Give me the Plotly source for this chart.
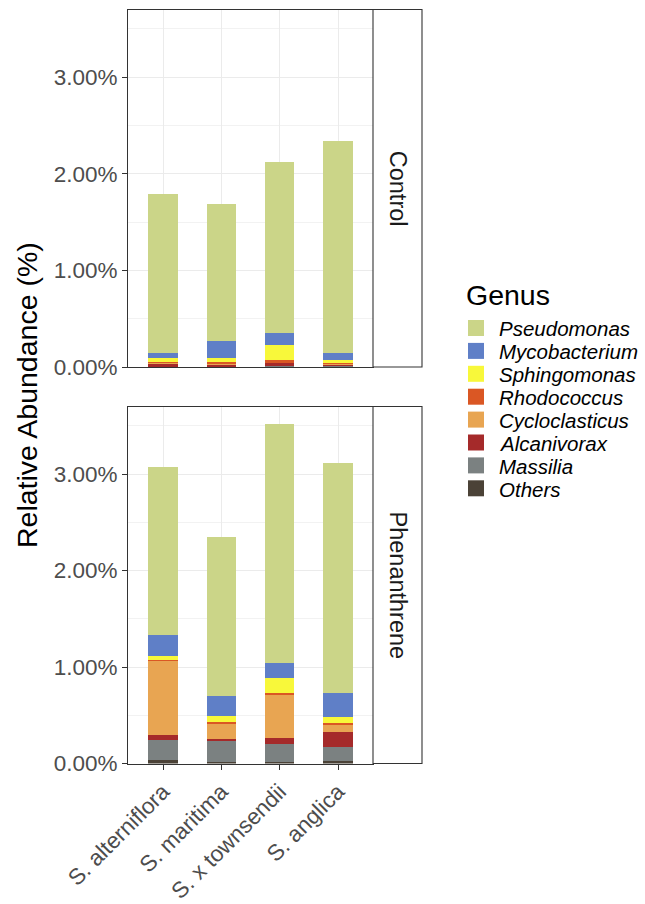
import plotly.graph_objects as go

W, H = 645, 904

species = ["S. alterniflora", "S. maritima", "S. x townsendii", "S. anglica"]
genera = ["Pseudomonas", "Mycobacterium", "Sphingomonas", "Rhodococcus",
          "Cycloclasticus", "Alcanivorax", "Massilia", "Others"]
colors = ["#CBD588", "#5F7FC7", "#F8F83A", "#DA5724",
          "#E8A552", "#A52A2A", "#7B8181", "#4B4237"]

# Relative abundance (%) per genus, per species (order as in `species`)
control = {
    "Pseudomonas":    [1.65, 1.42, 1.77, 2.20],
    "Mycobacterium":  [0.05, 0.17, 0.12, 0.076],
    "Sphingomonas":   [0.045, 0.045, 0.16, 0.027],
    "Rhodococcus":    [0.005, 0.01, 0.02, 0.008],
    "Cycloclasticus": [0.005, 0.015, 0.005, 0.004],
    "Alcanivorax":    [0.035, 0.015, 0.035, 0.022],
    "Massilia":       [0.005, 0.005, 0.005, 0.004],
    "Others":         [0.005, 0.01, 0.01, 0.008],
}
phenanthrene = {
    "Pseudomonas":    [1.74, 1.65, 2.47, 2.385],
    "Mycobacterium":  [0.22, 0.20, 0.16, 0.245],
    "Sphingomonas":   [0.04, 0.06, 0.15, 0.065],
    "Rhodococcus":    [0.005, 0.03, 0.015, 0.015],
    "Cycloclasticus": [0.78, 0.15, 0.455, 0.076],
    "Alcanivorax":    [0.049, 0.02, 0.06, 0.158],
    "Massilia":       [0.209, 0.22, 0.19, 0.146],
    "Others":         [0.038, 0.02, 0.02, 0.03],
}
y_ticks = [0, 1, 2, 3]
y_ticktext = ["0.00%", "1.00%", "2.00%", "3.00%"]
facets = ["Control", "Phenanthrene"]

FONT = "Liberation Sans, Arial, sans-serif"
TICK = 22.5
STRIP = 23.5
LEG = 20.5
BIG = 28.5

def px_x(p):
    return p / W

def px_y(p):
    return 1 - p / H

# panel geometry (pixels)
xl, xr = 128, 373
strip_r = 422
top_panel = (9.5, 367)
bot_panel = (406.5, 763.5)

fig = go.Figure()
x_idx = list(range(len(species)))

for panel, data in ((1, control), (2, phenanthrene)):
    for g, c in zip(reversed(genera), reversed(colors)):
        fig.add_trace(go.Bar(
            x=x_idx, y=data[g], name=g, marker=dict(color=c, line=dict(width=0)),
            width=0.5, showlegend=False,
            xaxis="x" if panel == 1 else "x2",
            yaxis="y" if panel == 1 else "y2",
        ))

axis_common = dict(
    showline=True, mirror=True, linecolor="#333333", linewidth=1.1,
    zeroline=False, automargin=False,
)
xaxis_common = dict(
    axis_common, range=[-0.6, 3.6], tickvals=x_idx, showgrid=True,
    gridcolor="#EBEBEB", gridwidth=1.1,
)
yaxis_common = dict(
    axis_common, range=[0, 3.70], tickvals=y_ticks, ticktext=y_ticktext,
    showgrid=True, gridcolor="#EBEBEB", gridwidth=1.1,
    ticks="outside", ticklen=5, tickcolor="#333333", tickwidth=1.1,
    tickfont=dict(family=FONT, size=TICK, color="#4D4D4D"),
    minor=dict(tickvals=[0.5, 1.5, 2.5, 3.5], showgrid=True,
               gridcolor="#F2F2F2", gridwidth=0.6, ticks=""),
)

fig.update_layout(
    width=W, height=H,
    margin=dict(l=0, r=0, t=0, b=0, autoexpand=False),
    paper_bgcolor="white", plot_bgcolor="white",
    barmode="stack", bargap=0,
    font=dict(family=FONT),
    xaxis=dict(xaxis_common, domain=[px_x(xl), px_x(xr)], anchor="y",
               showticklabels=False, ticks=""),
    yaxis=dict(yaxis_common, domain=[px_y(top_panel[1]), px_y(top_panel[0])],
               anchor="x"),
    xaxis2=dict(xaxis_common, domain=[px_x(xl), px_x(xr)], anchor="y2",
                ticktext=species, tickangle=-45, ticks="outside", ticklen=5,
                tickcolor="#333333", tickwidth=1.1,
                tickfont=dict(family=FONT, size=TICK, color="#4D4D4D")),
    yaxis2=dict(yaxis_common, domain=[px_y(bot_panel[1]), px_y(bot_panel[0])],
                anchor="x2"),
    showlegend=False,
)

shapes = []
annotations = []
# strips
for (t, b), lab in zip((top_panel, bot_panel), facets):
    shapes.append(dict(type="rect", xref="paper", yref="paper",
                       x0=px_x(xr), x1=px_x(strip_r), y0=px_y(b), y1=px_y(t),
                       line=dict(color="#333333", width=1.1), fillcolor="white"))
    annotations.append(dict(xref="paper", yref="paper",
                            x=px_x((xr + strip_r) / 2), y=px_y((t + b) / 2),
                            xanchor="center", yanchor="middle",
                            text=lab, textangle=90, showarrow=False,
                            font=dict(family=FONT, size=STRIP, color="#1A1A1A")))

# y-axis title
annotations.append(dict(xref="paper", yref="paper", x=px_x(27), y=px_y(395),
                        xanchor="center", yanchor="middle",
                        text="Relative Abundance (%)", textangle=-90,
                        showarrow=False,
                        font=dict(family=FONT, size=BIG, color="black")))

# legend (custom)
annotations.append(dict(xref="paper", yref="paper", x=px_x(464), y=px_y(295),
                        text="Genus", showarrow=False, xanchor="left",
                        yanchor="middle",
                        font=dict(family=FONT, size=BIG, color="black")))
for i, (g, c) in enumerate(zip(genera, colors)):
    cy = 328 + i * 22.9
    shapes.append(dict(type="rect", xref="paper", yref="paper",
                       x0=px_x(468), x1=px_x(484), y0=px_y(cy + 8),
                       y1=px_y(cy - 8), line=dict(width=0), fillcolor=c))
    annotations.append(dict(xref="paper", yref="paper", x=px_x(497), y=px_y(cy + 1),
                            text=f"<i>{g}</i>", showarrow=False,
                            xanchor="left", yanchor="middle",
                            font=dict(family=FONT, size=LEG, color="black")))

fig.update_layout(shapes=shapes, annotations=annotations)
fig.write_html("out.html")
